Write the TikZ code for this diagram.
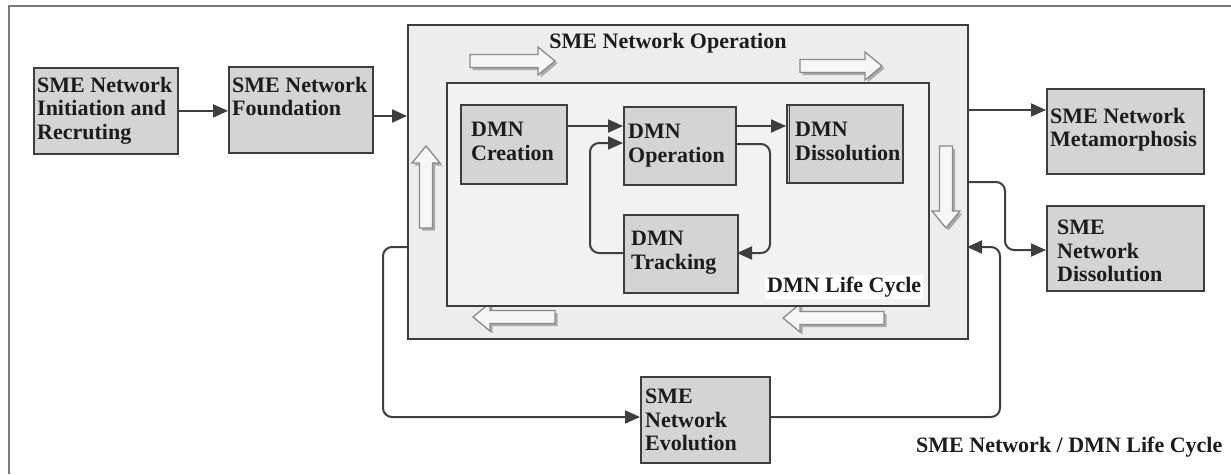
\documentclass[tikz,border=0pt]{standalone}
\usepackage{fontspec}
\setmainfont{Liberation Serif}
\usetikzlibrary{arrows.meta}

\definecolor{boxfill}{HTML}{D4D4D4}
\definecolor{boxline}{HTML}{3E3E3E}
\definecolor{opfill}{HTML}{EDEDED}
\definecolor{lcfill}{HTML}{F2F2F2}
\definecolor{txtcol}{HTML}{1C1C1C}
\definecolor{hollowline}{HTML}{8A8A8A}
\definecolor{hollowfill}{HTML}{F6F6F6}
\definecolor{hollowshade}{HTML}{ABABAB}
\definecolor{framecol}{HTML}{7A7A7A}

\tikzset{
  stagebox/.style={rectangle, draw=boxline, fill=boxfill, line width=1.8pt,
    inner sep=0pt, anchor=north west},
  panel/.style={rectangle, draw=boxline, line width=1.8pt, inner sep=0pt,
    anchor=north west},
  boxtext/.style={font=\fontsize{22}{23.5}\selectfont\bfseries, text=txtcol,
    align=left, inner sep=0pt, anchor=north west},
  caption/.style={font=\fontsize{22}{23.5}\selectfont\bfseries, text=txtcol,
    inner sep=0pt},
  conn/.style={draw=boxline, line width=2pt, rounded corners=9pt,
    -{Triangle[length=15pt,width=13pt]}},
}

% hollow block arrow: tail x, tail y, length, rotation
\newcommand{\hollowarrow}[4]{%
  \begin{scope}[shift={(#1+2.5,#2+2.5)}, rotate=#4]
    \fill[hollowshade] (0,-6.5) -- (#3-17,-6.5) -- (#3-17,-14) -- (#3,0)
      -- (#3-17,14) -- (#3-17,6.5) -- (0,6.5) -- cycle;
  \end{scope}
  \begin{scope}[shift={(#1,#2)}, rotate=#4]
    \draw[hollowline, fill=hollowfill, line width=1.3pt, line join=miter]
      (0,-6.5) -- (#3-17,-6.5) -- (#3-17,-14) -- (#3,0)
      -- (#3-17,14) -- (#3-17,6.5) -- (0,6.5) -- cycle;
  \end{scope}}

\begin{document}
\begin{tikzpicture}[x=1pt,y=-1pt]
\useasboundingbox (0,0) rectangle (1231,474);
\fill[white] (0,0) rectangle (1231,474);

% frame of the whole figure
\draw[framecol, line width=2.6pt] (9,474) -- (9,6) -- (1231,6);

% SME network operation panel with the DMN life cycle inside
\node[panel, fill=opfill, minimum width=560pt, minimum height=314pt] (op) at (407,24) {};
\node[caption, anchor=base] (opT) at (668,48) {SME Network Operation};

\hollowarrow{470}{61}{85}{0}
\hollowarrow{800}{66}{82}{0}
\hollowarrow{426}{228}{82}{90}
\hollowarrow{946}{146}{82}{-90}
\hollowarrow{555}{317}{82}{180}
\hollowarrow{884}{318}{101}{180}

\node[panel, fill=lcfill, minimum width=482pt, minimum height=223pt] (lc) at (446,82) {};
\node[caption, anchor=base west, fill=white, inner sep=2pt] (lcT) at (765,292) {DMN Life Cycle};

% DMN stages
\node[stagebox, minimum width=106pt, minimum height=79pt] (crea) at (460,104) {};
\node[boxtext] (creaT) at (471,122) {DMN\\Creation};
\node[stagebox, minimum width=112pt, minimum height=78pt] (oper) at (623,106) {};
\node[boxtext] (operT) at (628,124) {DMN\\Operation};
\node[stagebox, minimum width=116pt, minimum height=78pt] (dis) at (786,104) {};
\draw[boxline, line width=1.6pt] ([xshift=3.5pt]dis.north west) -- ([xshift=3.5pt]dis.south west);
\node[boxtext] (disT) at (795,122) {DMN\\Dissolution};
\node[stagebox, minimum width=114pt, minimum height=78pt] (trk) at (623,214) {};
\node[boxtext] (trkT) at (631,231) {DMN\\Tracking};

% SME network stages
\node[stagebox, minimum width=144pt, minimum height=86pt] (init) at (33,67) {};
\node[boxtext] (initT) at (37,77) {SME Network\\Initiation and\\Recruting};
\node[stagebox, minimum width=144pt, minimum height=86pt] (found) at (228,66) {};
\node[boxtext] (foundT) at (232,77) {SME Network\\Foundation};
\node[stagebox, minimum width=157pt, minimum height=85pt] (meta) at (1046,88) {};
\node[boxtext] (metaT) at (1050,108) {SME Network\\Metamorphosis};
\node[stagebox, minimum width=157pt, minimum height=85pt] (sdis) at (1046,205) {};
\node[boxtext] (sdisT) at (1057,220) {SME\\Network\\Dissolution};
\node[stagebox, minimum width=129pt, minimum height=86pt] (evo) at (640,376) {};
\node[boxtext] (evoT) at (645,389) {SME\\Network\\Evolution};

\node[caption, anchor=base west] (title) at (916,452) {SME Network / DMN Life Cycle};

% attachment points on the borders
\coordinate (opFound) at (407,116);
\coordinate (opMeta) at (967,110);
\coordinate (opDis) at (967,182);
\coordinate (opBack) at (967,247);
\coordinate (opEvo) at (407,247);
\coordinate (creaOut) at (566,126);
\coordinate (operOut) at (735,126);
\coordinate (operLoop) at (735,144);
\coordinate (operIn) at (623,143);
\coordinate (trkIn) at (737,253);
\coordinate (trkOut) at (623,253);
\coordinate (evoIn) at (640,417);
\coordinate (evoOut) at (769,417);

% connectors
\draw[conn] (init.east) -- (init.east -| found.west);
\draw[conn] (found.east |- opFound) -- (opFound);
\draw[conn] (creaOut) -- (creaOut -| oper.west);
\draw[conn] (operOut) -- (operOut -| dis.west);
\draw[conn] (operLoop) -- (770,144) -- (770,253) -- (trkIn);
\draw[conn] (trkOut) -- (590,253) -- (590,143) -- (operIn);
\draw[conn] (opMeta) -- (opMeta -| meta.west);
\draw[conn] (opDis) -- (1005,182) -- (1005,250) -- (sdis.west |- 0,250);
\draw[conn] (opEvo) -- (383,247) -- (383,417) -- (evoIn);
\draw[conn] (evoOut) -- (1000,417) -- (1000,247) -- (opBack);
\end{tikzpicture}
\end{document}
